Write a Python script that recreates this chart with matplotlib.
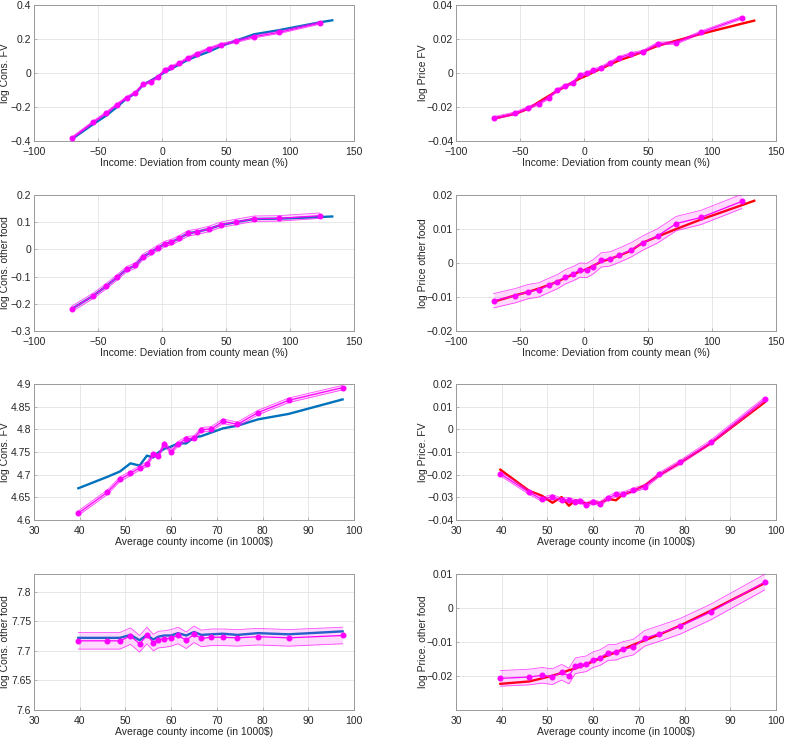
import numpy as np
import matplotlib.pyplot as plt

plt.rcParams['font.family'] = ['Liberation Sans', 'DejaVu Sans']
plt.rcParams['font.size'] = 7.5

# income deviation bins (%), rows 1-2
dev_x = [-70.6, -53.6, -43.5, -35.2, -27.6, -20.8, -14.8, -8.9, -3.1, 2.1,
         7.3, 13.5, 20.3, 27.6, 36.5, 46.1, 57.6, 72.1, 91.4, 123.2]
dev_line_x = dev_x + [133.0]

# average county income bins (1000$), rows 3-4
inc_x = [39.7, 46.0, 48.8, 51.1, 53.1, 54.7, 56.1, 57.2, 58.5, 60.0,
         61.5, 63.3, 65.0, 66.6, 68.8, 71.3, 74.5, 79.0, 85.7, 97.5]

# panel 1: log Cons. FV
cons_fv_dev = [-0.384, -0.288, -0.235, -0.186, -0.145, -0.116, -0.067, -0.051, -0.025, 0.018,
               0.035, 0.057, 0.088, 0.114, 0.143, 0.167, 0.186, 0.214, 0.239, 0.294]
cons_fv_dev_fit = [-0.390, -0.300, -0.250, -0.200, -0.150, -0.120, -0.070, -0.045, -0.020, 0.005,
                   0.025, 0.050, 0.078, 0.100, 0.125, 0.158, 0.190, 0.228, 0.252, 0.298, 0.310]
cons_fv_dev_hw = 0.007

# panel 2: log Price FV
price_fv_dev = [-0.0265, -0.0237, -0.0204, -0.0180, -0.0145, -0.0100, -0.0076, -0.0059, -0.0012, -0.0002,
                0.0016, 0.0031, 0.0060, 0.0090, 0.0112, 0.0126, 0.0173, 0.0178, 0.0239, 0.0325]
price_fv_dev_fit = [-0.0268, -0.0240, -0.0210, -0.0170, -0.0135, -0.0105, -0.0080, -0.0055, -0.0032, -0.0015,
                    0.0005, 0.0025, 0.0050, 0.0075, 0.0098, 0.0125, 0.0160, 0.0190, 0.0230, 0.0290, 0.0308]
price_fv_dev_hw = 0.0008

# panel 3: log Cons. other food
cons_of_dev = [-0.219, -0.170, -0.135, -0.103, -0.073, -0.059, -0.027, -0.011, 0.006, 0.020,
               0.027, 0.041, 0.059, 0.065, 0.075, 0.091, 0.101, 0.113, 0.114, 0.124]
cons_of_dev_fit = [-0.219, -0.170, -0.135, -0.103, -0.073, -0.059, -0.027, -0.011, 0.006, 0.020,
                   0.027, 0.041, 0.059, 0.065, 0.075, 0.090, 0.100, 0.112, 0.113, 0.119, 0.121]
cons_of_dev_hw = 0.01

# panel 4: log Price other food
price_of_dev = [-0.0111, -0.0096, -0.0084, -0.0079, -0.0066, -0.0055, -0.0041, -0.0032, -0.0021, -0.0022,
                -0.0011, 0.0009, 0.0012, 0.0023, 0.0038, 0.0059, 0.0080, 0.0116, 0.0134, 0.0181]
price_of_dev_fit = [-0.0114, -0.0095, -0.0085, -0.0075, -0.0065, -0.0055, -0.0044, -0.0034, -0.0025, -0.0018,
                    -0.0008, 0.0004, 0.0012, 0.0022, 0.0036, 0.0060, 0.0078, 0.0100, 0.0128, 0.0170, 0.0183]
price_of_dev_hw = 0.0021

# panel 5: log Cons. FV by county income
cons_fv_inc = [4.615, 4.661, 4.690, 4.703, 4.715, 4.723, 4.745, 4.741, 4.768, 4.751,
               4.768, 4.779, 4.781, 4.799, 4.801, 4.818, 4.811, 4.837, 4.864, 4.892]
cons_fv_inc_fit = [4.670, 4.695, 4.707, 4.725, 4.720, 4.742, 4.738, 4.749, 4.757, 4.762,
                   4.769, 4.769, 4.782, 4.785, 4.793, 4.802, 4.808, 4.822, 4.834, 4.866]
cons_fv_inc_hw = 0.005

# panel 6: log Price. FV by county income
price_fv_inc = [-0.0196, -0.0278, -0.0309, -0.0297, -0.0312, -0.0310, -0.0319, -0.0316, -0.0332, -0.0319,
                -0.0328, -0.0303, -0.0287, -0.0285, -0.0268, -0.0253, -0.0199, -0.0146, -0.0057, 0.0132]
price_fv_inc_fit = [-0.0178, -0.0271, -0.0293, -0.0324, -0.0299, -0.0337, -0.0313, -0.0319, -0.0328, -0.0321,
                    -0.0325, -0.0307, -0.0313, -0.0285, -0.0272, -0.0247, -0.0201, -0.0147, -0.0062, 0.0119]
price_fv_inc_hw = 0.0009

# panel 7: log Cons. other food by county income
cons_of_inc = [7.717, 7.717, 7.717, 7.725, 7.712, 7.726, 7.714, 7.719, 7.720, 7.722,
               7.726, 7.718, 7.728, 7.721, 7.723, 7.723, 7.722, 7.724, 7.722, 7.726]
cons_of_inc_fit = [7.722, 7.722, 7.722, 7.727, 7.718, 7.727, 7.719, 7.724, 7.726, 7.726,
                   7.730, 7.726, 7.732, 7.727, 7.728, 7.729, 7.727, 7.730, 7.728, 7.733]
cons_of_inc_hw = 0.014

# panel 8: log Price. other food by county income
price_of_inc = [-0.0207, -0.0203, -0.0198, -0.0202, -0.0189, -0.0200, -0.0170, -0.0167, -0.0164, -0.0152,
                -0.0146, -0.0131, -0.0130, -0.0122, -0.0115, -0.0089, -0.0075, -0.0054, -0.0012, 0.0076]
price_of_inc_fit = [-0.0223, -0.0216, -0.0207, -0.0199, -0.0191, -0.0183, -0.0178, -0.0172, -0.0166, -0.0157,
                    -0.0148, -0.0139, -0.0130, -0.0121, -0.0108, -0.0095, -0.0078, -0.0052, -0.0008, 0.0073]
price_of_inc_hw = 0.0023

BLUE = '#0072BD'
RED = '#FF0000'
MAG = '#FF00FF'

dev_label = 'Income: Deviation from county mean (%)'
inc_label = 'Average county income (in 1000$)'

panels = [
    # (x, y, fit_x, fit, hw, color, ylabel, xlabel, xlim, ylim, yticks)
    (dev_x, cons_fv_dev, dev_line_x, cons_fv_dev_fit, cons_fv_dev_hw, BLUE, 'log Cons. FV', dev_label,
     (-100, 150), (-0.4, 0.4), [-0.4, -0.2, 0, 0.2, 0.4]),
    (dev_x, price_fv_dev, dev_line_x, price_fv_dev_fit, price_fv_dev_hw, RED, 'log Price FV', dev_label,
     (-100, 150), (-0.04, 0.04), [-0.04, -0.02, 0, 0.02, 0.04]),
    (dev_x, cons_of_dev, dev_line_x, cons_of_dev_fit, cons_of_dev_hw, BLUE, 'log Cons. other food', dev_label,
     (-100, 150), (-0.3, 0.2), [-0.3, -0.2, -0.1, 0, 0.1, 0.2]),
    (dev_x, price_of_dev, dev_line_x, price_of_dev_fit, price_of_dev_hw, RED, 'log Price other food', dev_label,
     (-100, 150), (-0.02, 0.02), [-0.02, -0.01, 0, 0.01, 0.02]),
    (inc_x, cons_fv_inc, inc_x, cons_fv_inc_fit, cons_fv_inc_hw, BLUE, 'log Cons. FV', inc_label,
     (30, 100), (4.6, 4.9), [4.6, 4.65, 4.7, 4.75, 4.8, 4.85, 4.9]),
    (inc_x, price_fv_inc, inc_x, price_fv_inc_fit, price_fv_inc_hw, RED, 'log Price. FV', inc_label,
     (30, 100), (-0.04, 0.02), [-0.04, -0.03, -0.02, -0.01, 0, 0.01, 0.02]),
    (inc_x, cons_of_inc, inc_x, cons_of_inc_fit, cons_of_inc_hw, BLUE, 'log Cons. other food', inc_label,
     (30, 100), (7.6, 7.83), [7.6, 7.65, 7.7, 7.75, 7.8]),
    (inc_x, price_of_inc, inc_x, price_of_inc_fit, price_of_inc_hw, RED, 'log Price. other food', inc_label,
     (30, 100), (-0.03, 0.01), [-0.02, -0.01, 0, 0.01]),
]

fig = plt.figure(figsize=(7.85, 7.4), dpi=100)
W, H = 785, 740
col_left = [34, 456]
row_top = [5, 195, 384, 574]
aw, ah = 320, 136
ylab_x = [-0.074, -0.087]


def fmt(v):
    return ('%g' % v).replace('-', '\u2212')


for i, (x, y, fx, fy, hw, col, ylab, xlab, xlim, ylim, yt) in enumerate(panels):
    r, c = divmod(i, 2)
    ax = fig.add_axes([col_left[c] / W, 1 - (row_top[r] + ah) / H, aw / W, ah / H])
    x = np.array(x)
    y = np.array(y)
    ax.plot(fx, fy, color=col, lw=1.7, zorder=2)
    ax.fill_between(x, y - hw, y + hw, color=MAG, alpha=0.15, lw=0, zorder=3)
    ax.plot(x, y - hw, color=MAG, lw=0.6, alpha=0.7, zorder=3)
    ax.plot(x, y + hw, color=MAG, lw=0.6, alpha=0.7, zorder=3)
    ax.plot(x, y, color=MAG, lw=0.9, marker='o', ms=3.3, zorder=4)
    ax.set_xlim(*xlim)
    ax.set_ylim(*ylim)
    ax.set_yticks(yt)
    ax.set_yticklabels([fmt(v) for v in yt])
    xt = ax.get_xticks()
    xt = [v for v in xt if xlim[0] <= v <= xlim[1]]
    ax.set_xticks(xt)
    ax.set_xticklabels([fmt(v) for v in xt])
    ax.grid(True, color='#e3e3e3', lw=0.6)
    ax.set_axisbelow(True)
    for s in ax.spines.values():
        s.set_color('#9a9a9a')
        s.set_linewidth(0.7)
    ax.tick_params(direction='in', length=2.5, width=0.5, color='#9a9a9a',
                   labelcolor='#262626', labelsize=7.5, pad=2)
    ax.tick_params(axis='x', pad=4)
    ax.set_ylabel(ylab, color='#262626', fontsize=7.5)
    ax.yaxis.set_label_coords(ylab_x[c], 0.5)
    ax.set_xlabel(xlab, color='#262626', fontsize=7.5, labelpad=1)

fig.savefig('out.png', dpi=100)
